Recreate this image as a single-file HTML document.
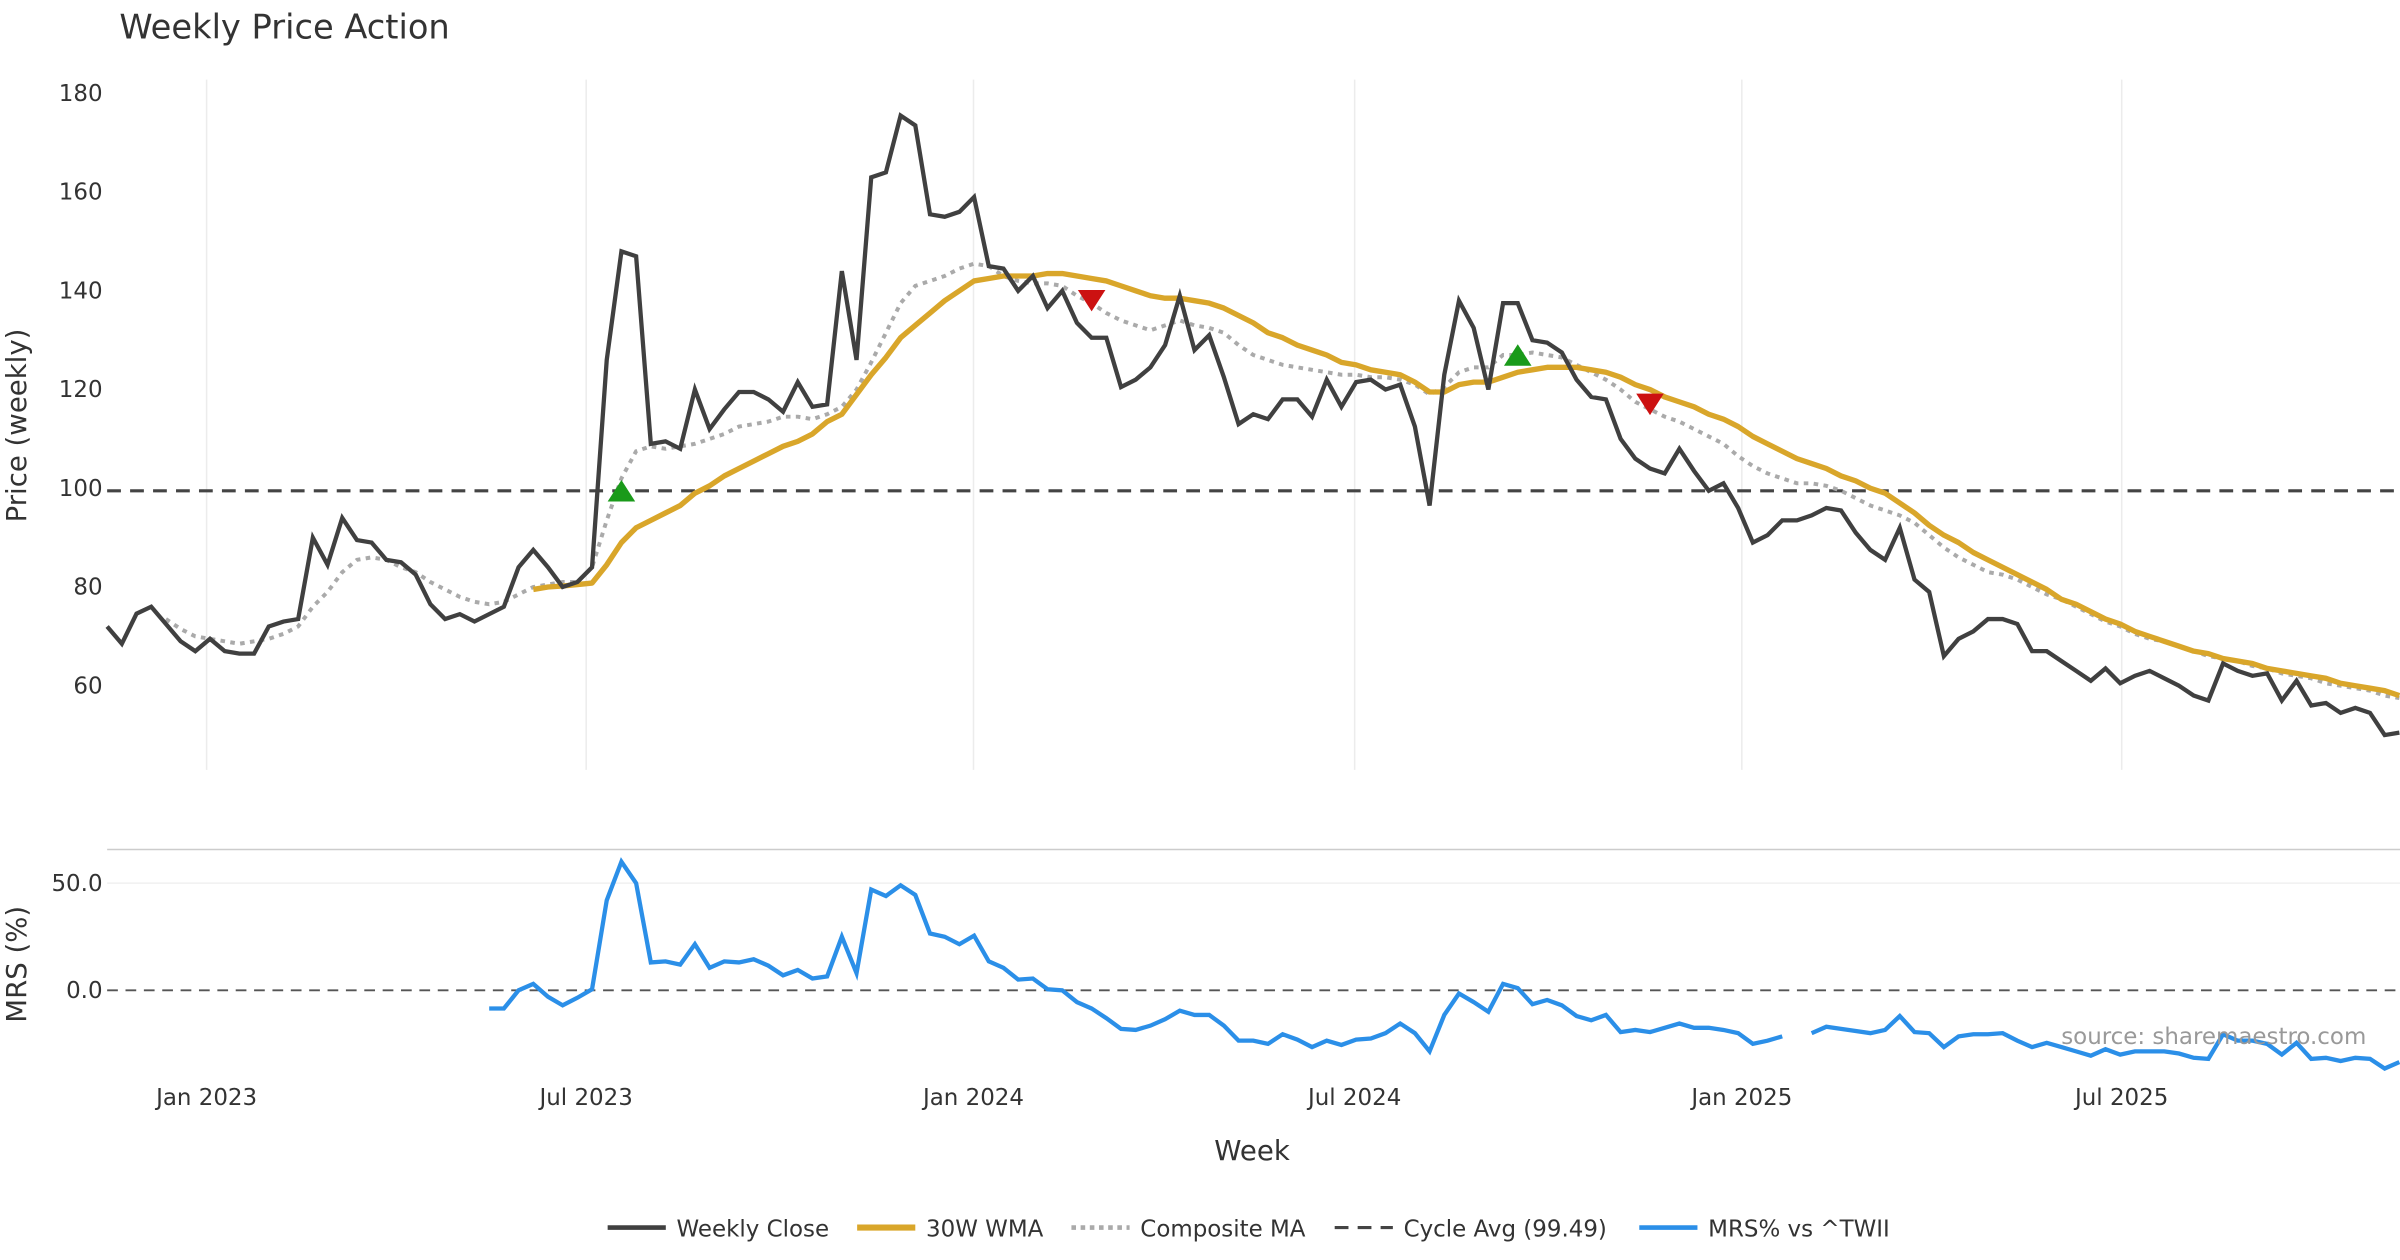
<!DOCTYPE html>
<html><head><meta charset="utf-8"><style>
html,body{margin:0;padding:0;background:#fff;}
svg{display:block;font-family:"DejaVu Sans","Liberation Sans",sans-serif;}
</style></head><body>
<svg id="chart" width="2400" height="1260" viewBox="0 0 1568 823.2" preserveAspectRatio="none" xmlns="http://www.w3.org/2000/svg">
<text x="78" y="25" font-size="22" fill="#333">Weekly Price Action</text>
<g id="grid"></g>
<g id="axes"></g>
<g id="series"></g>
<text transform="translate(17,278) rotate(-90)" text-anchor="middle" font-size="18" fill="#333">Price (weekly)</text>
<text transform="translate(17,630) rotate(-90)" text-anchor="middle" font-size="18" fill="#333">MRS (%)</text>
<text x="818" y="758" text-anchor="middle" font-size="18" fill="#333">Week</text>
<text x="1546" y="682" text-anchor="end" font-size="15" fill="#999">source: sharemaestro.com</text>
<g id="legend" font-size="15" fill="#333">
  <g><line x1="397" y1="802" x2="435" y2="802" stroke="#404040" stroke-width="3"/><text x="442" y="808">Weekly Close</text></g>
  <g><line x1="560" y1="802" x2="598" y2="802" stroke="#d9a62a" stroke-width="4"/><text x="605" y="808">30W WMA</text></g>
  <g><line x1="700" y1="802" x2="738" y2="802" stroke="#aaa" stroke-width="3" stroke-dasharray="3,3"/><text x="745" y="808">Composite MA</text></g>
  <g><line x1="872" y1="802" x2="910" y2="802" stroke="#444" stroke-width="2" stroke-dasharray="9,6"/><text x="917" y="808">Cycle Avg (99.49)</text></g>
  <g><line x1="1071" y1="802" x2="1109" y2="802" stroke="#2b8fe8" stroke-width="3"/><text x="1116" y="808">MRS% vs ^TWII</text></g>
</g>
</svg>
<script>
const closeVals=[72,68.5,74.6,76,72.5,69,67,69.5,67,66.5,66.5,72,73,73.5,90,84.5,94,89.5,89,85.5,85,82.5,76.5,73.5,74.5,73,74.5,76,84,87.5,84,80,81,84,126,148,147,109,109.5,108,120,112,116,119.5,119.5,118,115.5,121.5,116.5,117,144,126,163,164,175.5,173.5,155.5,155,156,159,145,144.5,140,143,136.5,140,133.5,130.5,130.5,120.5,122,124.5,129,139,128,131,122.5,113,115,114,118,118,114.5,122,116.5,121.5,122,120,121,112.5,96.5,123,138,132.5,120,137.5,137.5,130,129.5,127.5,122,118.5,118,110,106,104,103,108,103.5,99.5,101,96,89,90.5,93.5,93.5,94.5,96,95.5,91,87.5,85.5,92,81.5,79,66,69.5,71,73.5,73.5,72.5,67,67,65,63,61,63.5,60.5,62,63,61.5,60,58,57,64.5,63,62,62.5,57,61,56,56.5,54.5,55.5,54.5,50,50.5];
const wmaStart=29;
const wmaVals=[79.5,80,80.2,80.5,80.8,84.5,89,92,93.5,95,96.5,99,100.5,102.5,104,105.5,107,108.5,109.5,111,113.5,115,119,123,126.5,130.5,133,135.5,138,140,142,142.5,143,143,143,143.5,143.5,143,142.5,142,141,140,139,138.5,138.5,138,137.5,136.5,135,133.5,131.5,130.5,129,128,127,125.5,125,124,123.5,123,121.5,119.5,119.5,121,121.5,121.5,122.5,123.5,124,124.5,124.5,124.5,124,123.5,122.5,121,120,118.5,117.5,116.5,115,114,112.5,110.5,109,107.5,106,105,104,102.5,101.5,100,99,97,95,92.5,90.5,89,87,85.5,84,82.5,81,79.5,77.5,76.5,75,73.5,72.5,71,70,69,68,67,66.5,65.5,65,64.5,63.5,63,62.5,62,61.5,60.5,60,59.5,59,58];
const compStart=4;
const compVals=[73.5,71.5,70,69.5,69,68.5,69,69.5,70.5,72,76,79,83,85.5,86,85.5,84,83,81,79.5,78,77,76.5,77,78.5,80,80.5,81,81,84,93.5,102,107.5,108.5,108,108.5,109,110,111,112.5,113,113.5,114.5,114.5,114,115,116.5,120,125.5,131.5,137.5,141,142,143,144.5,145.5,145,143,142,141.5,141.5,141,139,137.5,135.5,134,133,132,133,134,133,132.5,131.5,129,127,126,125,124.5,124,123.5,123,123,122.5,122.5,122,121,119,120.5,123.5,124.5,124.5,127,127,127.5,127,126.5,125,123.5,122,120,117.5,116,114.5,113.5,112,110.5,109,106.5,104.5,103,102,101,101,100.5,99.5,98,96.5,95.5,94.5,93,90.5,88,86,84.5,83,82.5,81.5,80,78.5,77.5,76,74.5,73,72,70.5,69.5,69,68,67,66,65.5,65,64,63.5,62.5,62,61.5,60.5,60,59.5,59,58,57.5];
const mrsStart=26;
const mrsVals=[-8.5,-8.5,0,3,-3,-7,-3.5,0.5,42,60,50,13,13.5,12,21.5,10.5,13.5,13,14.5,11.5,7,9.5,5.5,6.5,25,8,47,44,49,44.5,26.5,25,21.5,25.5,13.5,10.5,5,5.5,0.5,0,-5.5,-8.5,-13,-18,-18.5,-16.5,-13.5,-9.5,-11.5,-11.5,-16.5,-23.5,-23.5,-25,-20.5,-23,-26.5,-23.5,-25.5,-23,-22.5,-20,-15.5,-20,-28.5,-11.5,-1.5,-5.5,-10,3,1,-6.5,-4.5,-7,-12,-14,-11.5,-19.5,-18.5,-19.5,-17.5,-15.5,-17.5,-17.5,-18.5,-20,-25,-23.5,-21.5,null,-20,-17,-18,-19,-20,-18.5,-12,-19.5,-20,-26.5,-21.5,-20.5,-20.5,-20,-23.5,-26.5,-24.5,-26.5,-28.5,-30.5,-27.5,-30,-28.5,-28.5,-28.5,-29.5,-31.5,-32,-20.5,-23.5,-23.5,-25,-30,-24.5,-32,-31.5,-33,-31.5,-32,-36.5,-33.5];
const cycleAvg=99.49;
const markerIdx=[35,67,96,105];
const markerVals=[99.5,138,127,117];
const markerType=['buy','sell','buy','sell'];
const xTickLabels=['Jan 2023','Jul 2023','Jan 2024','Jul 2024','Jan 2025','Jul 2025'];
const xTickIdx=[6.77,32.6,58.96,84.9,111.25,137.1];
const priceTicks=[60,80,100,120,140,160,180];
const mrsTicks=[0,50];

const NS='http://www.w3.org/2000/svg';
const X0=70,X1=1568,STEP=9.6;
function xs(i){return X0+i*STEP;}
function yp(v){return 61+(180-v)*(448-61)/120;}
function ym(v){return 647-v*1.4;}
function mk(tag,attrs,parent){const e=document.createElementNS(NS,tag);for(const k in attrs)e.setAttribute(k,attrs[k]);parent.appendChild(e);return e;}
const grid=document.getElementById('grid'),axes=document.getElementById('axes'),ser=document.getElementById('series');

xTickIdx.forEach((ti,k)=>{
  const x=xs(ti);
  const g=mk('line',{x1:x,y1:52,x2:x,y2:503,stroke:'#ececec','stroke-width':1},grid);
  
  
  const t=mk('text',{x:x,y:722,'text-anchor':'middle','font-size':15,fill:'#333'},axes);
  t.textContent=xTickLabels[k];
  
  
});
priceTicks.forEach(v=>{
  const t=mk('text',{x:67,y:yp(v)+5,'text-anchor':'end','font-size':15,fill:'#333'},axes);
  t.textContent=v;
  
  
});
mrsTicks.forEach(v=>{
  const t=mk('text',{x:67,y:ym(v)+5,'text-anchor':'end','font-size':15,fill:'#333'},axes);
  t.textContent=v.toFixed(1);
  
  
});
let gl=mk('line',{x1:X0,y1:ym(50),x2:X1,y2:ym(50),stroke:'#f0f0f0','stroke-width':1},grid);


let sep=mk('line',{x1:X0,y1:555,x2:X1,y2:555,stroke:'#ccc','stroke-width':1},grid);



let cl=mk('line',{x1:X0,y1:yp(cycleAvg),x2:X1,y2:yp(cycleAvg),stroke:'#444','stroke-width':2,'stroke-dasharray':'9,6'},ser);


let zl=mk('line',{x1:X0,y1:ym(0),x2:X1,y2:ym(0),stroke:'#555','stroke-width':1.2,'stroke-dasharray':'7,5'},ser);



function pathOf(vals,start,yf){
  let d='',pen=false;
  vals.forEach((v,k)=>{
    if(v===null){pen=false;return;}
    d+=(pen?'L':'M')+xs(start+k).toFixed(2)+','+yf(v).toFixed(2);pen=true;
  });
  return d;
}
let p1=mk('path',{d:pathOf(compVals,compStart,yp),fill:'none',stroke:'#aaa','stroke-width':2.6,'stroke-dasharray':'3,3.5'},ser);


let p2=mk('path',{d:pathOf(wmaVals,wmaStart,yp),fill:'none',stroke:'#d9a62a','stroke-width':3.5,'stroke-linejoin':'round'},ser);


let p3=mk('path',{d:pathOf(closeVals,0,yp),fill:'none',stroke:'#404040','stroke-width':2.8},ser);


let p4=mk('path',{d:pathOf(mrsVals,mrsStart,ym),fill:'none',stroke:'#2b8fe8','stroke-width':2.8},ser);



markerIdx.forEach((mi,k)=>{
  const x=xs(mi),y=yp(markerVals[k]);
  const pts=markerType[k]==='buy'?`${x-9},${y+7} ${x+9},${y+7} ${x},${y-7}`:`${x-9},${y-7} ${x+9},${y-7} ${x},${y+7}`;
  const m=mk('polygon',{points:pts,fill:markerType[k]==='buy'?'#1a9a1a':'#cc1111'},ser);
  
  
});
</script>
</body></html>
